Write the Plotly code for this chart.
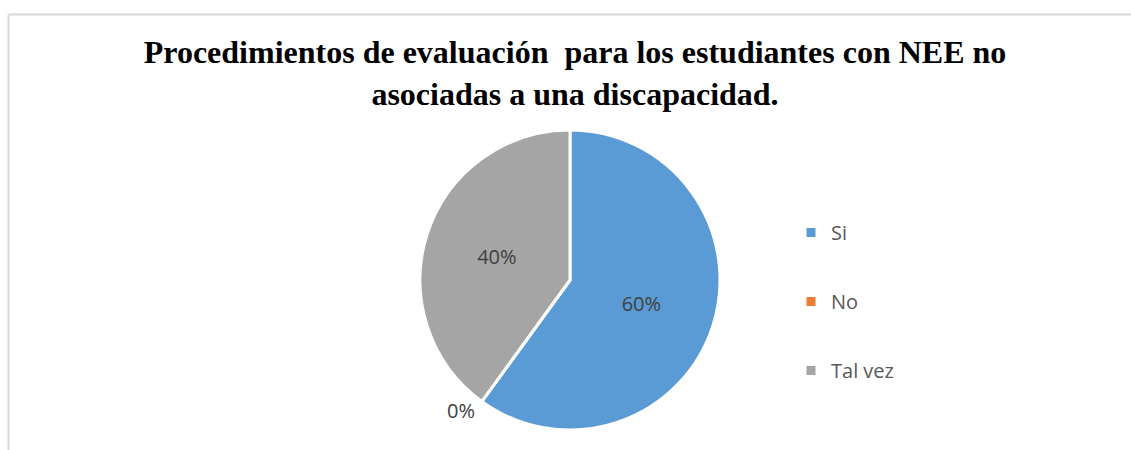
import plotly.graph_objects as go

categories = ["Si", "No", "Tal vez"]
values = [60, 0, 40]
colors = ["#5B9BD5", "#ED7D31", "#A5A5A5"]
title_text = "Procedimientos de evaluación  para los estudiantes con NEE no<br>asociadas a una discapacidad."

W, H = 1131, 450
cx, cy, r = 570, 280, 150

fig = go.Figure()
fig.add_trace(go.Pie(
    labels=categories, values=values, sort=False, direction="clockwise", rotation=0,
    marker=dict(colors=colors, line=dict(color="white", width=3)),
    textinfo="percent", texttemplate="%{percent:.0%}",
    textposition=["inside", "outside", "inside"],
    insidetextorientation="horizontal",
    textfont=dict(family="Open Sans", size=20, color="#404040"),
    outsidetextfont=dict(family="Open Sans", size=20, color="#404040"),
    domain=dict(x=[(cx - r) / W, (cx + r) / W], y=[1 - (cy + r) / H, 1 - (cy - r) / H]),
    showlegend=False, hoverinfo="label+percent",
))
for i, (c, col) in enumerate(zip(categories, colors)):
    fig.add_trace(go.Scatter(
        x=[None], y=[None], mode="markers", name=c, legendgroup=c,
        marker=dict(symbol="square", size=9, color=col), showlegend=True,
    ))

fig.update_layout(
    width=W, height=H, margin=dict(l=0, r=0, t=0, b=0),
    paper_bgcolor="white", plot_bgcolor="white",
    xaxis=dict(visible=False), yaxis=dict(visible=False),
    title=dict(text=title_text, x=575 / W, xanchor="center", y=1 - 63 / H, yanchor="middle",
               yref="container",
               font=dict(family="Liberation Serif", size=32, color="black", weight="bold")),
    legend=dict(x=791 / W, y=1 - 213 / H, xanchor="left", yanchor="top",
                itemwidth=30,
                font=dict(family="Open Sans", size=20, color="#595959"),
                tracegroupgap=40, bgcolor="rgba(0,0,0,0)"),
    shapes=[
        dict(type="line", xref="paper", yref="paper", x0=8.5 / W, x1=1, y0=1 - 14.5 / H, y1=1 - 14.5 / H,
             line=dict(color="#D9D9D9", width=2)),
        dict(type="line", xref="paper", yref="paper", x0=8.5 / W, x1=8.5 / W, y0=0, y1=1 - 14.5 / H,
             line=dict(color="#D9D9D9", width=2)),
    ],
)
fig.write_html("out.html", config={"displayModeBar": False},
               post_script="document.body.style.margin='0px';document.body.style.overflow='hidden';")
